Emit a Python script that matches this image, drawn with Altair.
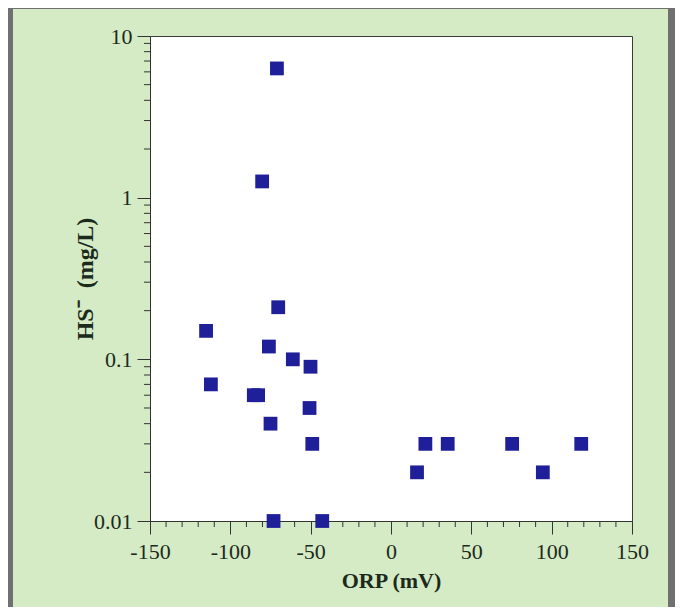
import altair as alt
import pandas as pd

# Data
orp_mv = [-71.0, -80.2, -70.2, -115.1, -76.0, -61.1, -50.1, -112.1, -85.4, -82.7,
          -50.7, -75.0, -49.0, -73.1, -42.8, 21.4, 35.3, 16.2, 75.4, 94.5, 118.4]
hs_mgl = [6.3, 1.26, 0.21, 0.15, 0.12, 0.10, 0.09, 0.07, 0.06, 0.06,
          0.05, 0.04, 0.03, 0.01, 0.01, 0.03, 0.03, 0.02, 0.03, 0.02, 0.03]

x_major = [-150, -100, -50, 0, 50, 100, 150]
x_minor = [v for v in range(-140, 150, 10) if v % 50 != 0]
y_major = [0.01, 0.1, 1, 10]
y_minor = [round(m * d, 4) for d in (0.01, 0.1, 1) for m in range(2, 10)]

df = pd.DataFrame({"ORP": orp_mv, "HS": hs_mgl})

GRAY = "#707070"
GREEN = "#d5ebc5"
NAVY = "#1f1f9a"
INK = "#1c2a1c"
AXC = "#333333"
SERIF = "Liberation Serif"

def xscale():
    return alt.Scale(domain=[-150, 150], nice=False, zero=False)

def yscale():
    return alt.Scale(type="log", domain=[0.01, 10], nice=False)

common = dict(grid=False, domainColor=AXC, tickColor=AXC, tickWidth=1,
              domainWidth=1, labelFlush=False, labelOverlap=False, tickSize=13)

one = pd.DataFrame({"a": [0]})
# decorative grey frame strips (left, top, right)
frame_left = alt.Chart(one).mark_rect(color=GRAY).encode(
    x=alt.value(-142), x2=alt.value(-137), y=alt.value(-28), y2=alt.value(571))
frame_top = alt.Chart(one).mark_rect(color=GRAY).encode(
    x=alt.value(-142), x2=alt.value(525), y=alt.value(-28), y2=alt.value(-27))
frame_right = alt.Chart(one).mark_rect(color=GRAY).encode(
    x=alt.value(518), x2=alt.value(525), y=alt.value(-28), y2=alt.value(571))

xminor_ticks = alt.Chart(pd.DataFrame({"xt": x_minor})).mark_rule(
    color=AXC, strokeWidth=1
).encode(
    x=alt.X("xt:Q", scale=xscale(), axis=None),
    y=alt.value(485), y2=alt.value(491),
)
yminor_ticks = alt.Chart(pd.DataFrame({"yt": y_minor})).mark_rule(
    color=AXC, strokeWidth=1
).encode(
    y=alt.Y("yt:Q", scale=yscale(), axis=None),
    x=alt.value(-6), x2=alt.value(0),
)

points = alt.Chart(df).mark_square(size=190, color=NAVY, opacity=1).encode(
    x=alt.X("ORP:Q", scale=xscale(), axis=alt.Axis(
        orient="bottom", values=x_major, labelPadding=7,
        labelExpr="datum.value + ''",
        labelFont=SERIF, labelFontSize=22,
        labelColor=INK, title="ORP (mV)", titleFont=SERIF, titleFontSize=22,
        titleFontWeight="bold", titleColor=INK, titlePadding=8, **common)),
    y=alt.Y("HS:Q", scale=yscale(), axis=alt.Axis(
        orient="left", values=y_major, labelPadding=5,
        format="~g",
        labelFont=SERIF, labelFontSize=22, labelColor=INK,
        title="HS⁻\u00a0\u00a0(mg/L)", titleFont=SERIF, titleFontSize=24,
        titleFontWeight="bold", titleColor=INK, titlePadding=-4, **common)),
)

chart = alt.layer(frame_left, frame_top, frame_right, xminor_ticks, yminor_ticks, points).resolve_scale(
    x="independent", y="independent"
).properties(
    width=482, height=485,
    padding={"left": 142, "top": 28, "right": 43, "bottom": 86},
    autosize=alt.AutoSizeParams(type="none"),
    background=GREEN,
).configure_view(fill="white", stroke="#3a3a3a", strokeWidth=1)

chart.save("out.html", embed_options={"renderer": "svg", "actions": False})
